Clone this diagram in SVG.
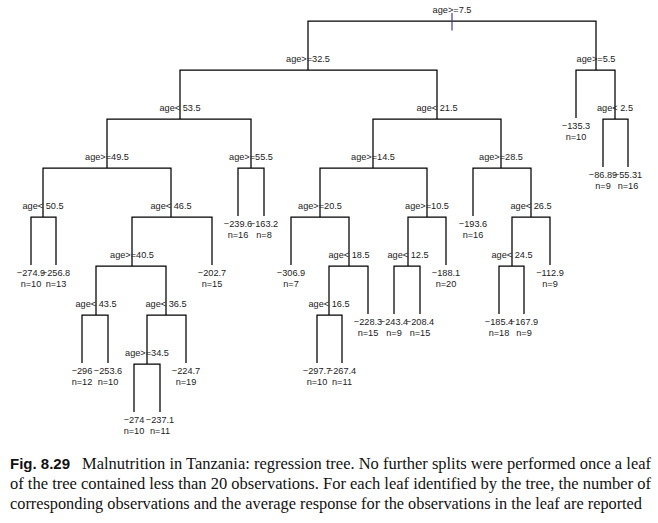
<svg xmlns="http://www.w3.org/2000/svg" width="658" height="523" viewBox="0 0 658 523">
<style>
  .bg{fill:#ffffff}
  .edge{fill:none;stroke:#000;stroke-width:1.25}
  .lbl{font-family:"Liberation Sans",Arial,sans-serif;font-size:9.2px;fill:#222;text-anchor:middle}
  .cap{font-family:"Liberation Serif","Times New Roman",serif;font-size:16px;fill:#111}
  .capb{font-family:"Liberation Sans",Arial,sans-serif;font-size:14.5px;font-weight:bold;fill:#111}
  .stub{stroke:#4a3c8c;stroke-width:1.2}
</style>
<rect class="bg" x="0" y="0" width="658" height="523"/>
<g id="connectors">
  <path class="edge" d="M308,70 V21 H596 V70"/>
  <path class="edge" d="M180,119 V70 H437 V119"/>
  <path class="edge" d="M576,118 V70 H615 V119"/>
  <path class="edge" d="M107,168 V119 H251 V168"/>
  <path class="edge" d="M373,168 V119 H501 V168"/>
  <path class="edge" d="M603,167 V119 H628 V167"/>
  <path class="edge" d="M43,217 V168 H171 V217"/>
  <path class="edge" d="M238,216 V168 H264 V216"/>
  <path class="edge" d="M473,216 V168 H531 V217"/>
  <path class="edge" d="M320,217 V168 H427 V217"/>
  <path class="edge" d="M31,265 V217 H56 V265"/>
  <path class="edge" d="M132,266 V217 H212 V265"/>
  <path class="edge" d="M291,265 V217 H349 V266"/>
  <path class="edge" d="M408,266 V217 H446 V265"/>
  <path class="edge" d="M512,266 V217 H550 V265"/>
  <path class="edge" d="M96,315 V266 H166 V315"/>
  <path class="edge" d="M329,315 V266 H368 V314"/>
  <path class="edge" d="M394,314 V266 H420 V314"/>
  <path class="edge" d="M499,314 V266 H524 V314"/>
  <path class="edge" d="M82,363 V315 H108 V363"/>
  <path class="edge" d="M147,364 V315 H186 V363"/>
  <path class="edge" d="M317,363 V315 H342 V363"/>
  <path class="edge" d="M134,412 V364 H160 V412"/>
</g>
<g id="n1"><line class="stub" x1="452" y1="13" x2="452" y2="30.5"/><text class="lbl" x="452" y="13">age&gt;=7.5</text></g>
<g id="n2"><text class="lbl" x="308" y="62">age&gt;=32.5</text></g>
<g id="n3"><text class="lbl" x="596" y="62">age&gt;=5.5</text></g>
<g id="n4"><text class="lbl" x="180" y="111">age&lt; 53.5</text></g>
<g id="n5"><text class="lbl" x="437" y="111">age&lt; 21.5</text></g>
<g id="n7"><text class="lbl" x="615" y="111">age&lt; 2.5</text></g>
<g id="n8"><text class="lbl" x="107" y="160">age&gt;=49.5</text></g>
<g id="n9"><text class="lbl" x="251" y="160">age&gt;=55.5</text></g>
<g id="n10"><text class="lbl" x="373" y="160">age&gt;=14.5</text></g>
<g id="n11"><text class="lbl" x="501" y="160">age&gt;=28.5</text></g>
<g id="n16"><text class="lbl" x="43" y="209">age&lt; 50.5</text></g>
<g id="n17"><text class="lbl" x="171" y="209">age&lt; 46.5</text></g>
<g id="n20"><text class="lbl" x="320" y="209">age&gt;=20.5</text></g>
<g id="n21"><text class="lbl" x="427" y="209">age&gt;=10.5</text></g>
<g id="n23"><text class="lbl" x="531" y="209">age&lt; 26.5</text></g>
<g id="n34"><text class="lbl" x="132" y="258">age&gt;=40.5</text></g>
<g id="n41"><text class="lbl" x="349" y="258">age&lt; 18.5</text></g>
<g id="n42"><text class="lbl" x="408" y="258">age&lt; 12.5</text></g>
<g id="n46"><text class="lbl" x="512" y="258">age&lt; 24.5</text></g>
<g id="n68"><text class="lbl" x="96" y="307">age&lt; 43.5</text></g>
<g id="n69"><text class="lbl" x="166" y="307">age&lt; 36.5</text></g>
<g id="n82"><text class="lbl" x="329" y="307">age&lt; 16.5</text></g>
<g id="n138"><text class="lbl" x="147" y="356">age&gt;=34.5</text></g>
<g id="leaf6"><text class="lbl" x="576" y="129">−135.3</text><text class="lbl" x="576" y="140">n=10</text></g>
<g id="leaf14"><text class="lbl" x="603" y="178">−86.89</text><text class="lbl" x="603" y="189">n=9</text></g>
<g id="leaf15"><text class="lbl" x="628" y="178">−55.31</text><text class="lbl" x="628" y="189">n=16</text></g>
<g id="leaf18"><text class="lbl" x="238" y="227">−239.6</text><text class="lbl" x="238" y="238">n=16</text></g>
<g id="leaf19"><text class="lbl" x="264" y="227">−163.2</text><text class="lbl" x="264" y="238">n=8</text></g>
<g id="leaf22"><text class="lbl" x="473" y="227">−193.6</text><text class="lbl" x="473" y="238">n=16</text></g>
<g id="leaf32"><text class="lbl" x="31" y="276">−274.9</text><text class="lbl" x="31" y="287">n=10</text></g>
<g id="leaf33"><text class="lbl" x="56" y="276">−256.8</text><text class="lbl" x="56" y="287">n=13</text></g>
<g id="leaf35"><text class="lbl" x="212" y="276">−202.7</text><text class="lbl" x="212" y="287">n=15</text></g>
<g id="leaf40"><text class="lbl" x="291" y="276">−306.9</text><text class="lbl" x="291" y="287">n=7</text></g>
<g id="leaf43"><text class="lbl" x="446" y="276">−188.1</text><text class="lbl" x="446" y="287">n=20</text></g>
<g id="leaf47"><text class="lbl" x="550" y="276">−112.9</text><text class="lbl" x="550" y="287">n=9</text></g>
<g id="leaf83"><text class="lbl" x="368" y="325">−228.3</text><text class="lbl" x="368" y="336">n=15</text></g>
<g id="leaf84"><text class="lbl" x="394" y="325">−243.4</text><text class="lbl" x="394" y="336">n=9</text></g>
<g id="leaf85"><text class="lbl" x="420" y="325">−208.4</text><text class="lbl" x="420" y="336">n=15</text></g>
<g id="leaf92"><text class="lbl" x="499" y="325">−185.4</text><text class="lbl" x="499" y="336">n=18</text></g>
<g id="leaf93"><text class="lbl" x="524" y="325">−167.9</text><text class="lbl" x="524" y="336">n=9</text></g>
<g id="leaf136"><text class="lbl" x="82" y="374">−296</text><text class="lbl" x="82" y="385">n=12</text></g>
<g id="leaf137"><text class="lbl" x="108" y="374">−253.6</text><text class="lbl" x="108" y="385">n=10</text></g>
<g id="leaf139"><text class="lbl" x="186" y="374">−224.7</text><text class="lbl" x="186" y="385">n=19</text></g>
<g id="leaf164"><text class="lbl" x="317" y="374">−297.7</text><text class="lbl" x="317" y="385">n=10</text></g>
<g id="leaf165"><text class="lbl" x="342" y="374">−267.4</text><text class="lbl" x="342" y="385">n=11</text></g>
<g id="leaf276"><text class="lbl" x="134" y="423">−274</text><text class="lbl" x="134" y="434">n=10</text></g>
<g id="leaf277"><text class="lbl" x="160" y="423">−237.1</text><text class="lbl" x="160" y="434">n=11</text></g>
<g id="caption">
  <text class="capb" x="10" y="469" textLength="60" lengthAdjust="spacingAndGlyphs">Fig. 8.29</text>
  <text class="cap" x="82" y="469" textLength="569" lengthAdjust="spacingAndGlyphs">Malnutrition in Tanzania: regression tree. No further splits were performed once a leaf</text>
  <text class="cap" x="10" y="489" textLength="641" lengthAdjust="spacingAndGlyphs">of the tree contained less than 20 observations. For each leaf identified by the tree, the number of</text>
  <text class="cap" x="10" y="509" textLength="632" lengthAdjust="spacingAndGlyphs">corresponding observations and the average response for the observations in the leaf are reported</text>
</g>
</svg>
